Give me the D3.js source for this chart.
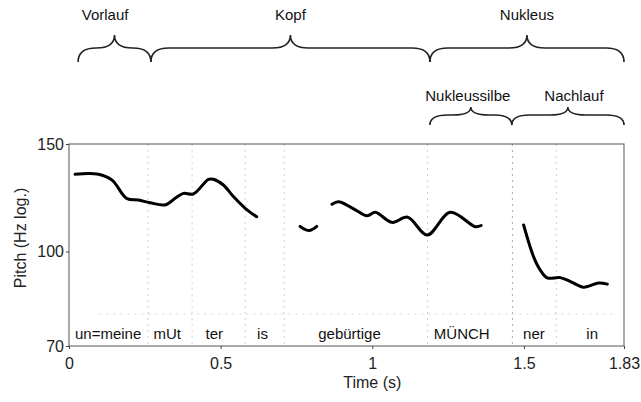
<!DOCTYPE html>
<html>
<head>
<meta charset="utf-8">
<script src="https://cdn.jsdelivr.net/npm/d3@7"></script>
<style>
  body { margin: 0; background: #fff; }
  svg { display: block; font-family: "Liberation Sans", Arial, sans-serif; }
  .axis text { font-size: 16px; fill: #222; }
  .axis path, .axis line { stroke: #444; }
</style>
</head>
<body>
<div id="chart"></div>
<script>
// pitch contour, [time s, Hz], one array per voiced stretch
const seg1 = [[0.020,133.8],[0.097,133.8],[0.142,130.9],[0.190,122.2],[0.229,121.4],[0.267,120.2],[0.317,119.2],
  [0.350,122.2],[0.377,124.5],[0.410,124.2],[0.460,131.3],[0.476,131.3],[0.509,128.5],[0.542,123.0],[0.581,117.7],[0.619,114.0]];
const seg2 = [[0.762,109.9],[0.792,108.2],[0.817,109.9]];
const seg3 = [[0.867,119.5],[0.889,120.6],[0.934,117.8],[0.983,114.4],[1.010,115.9],[1.065,111.6],[1.117,113.8],
  [1.181,106.4],[1.257,115.9],[1.340,109.8],[1.359,110.3]];
const seg4 = [[1.499,110.5],[1.532,98.0],[1.554,93.2],[1.577,90.5],[1.620,90.6],[1.657,89.1],[1.697,87.4],[1.747,88.8],[1.775,88.4]];
const segments = [seg1, seg2, seg3, seg4];

// syllable tier
const words = ["un=meine", "mUt", "ter", "is", "gebürtige", "MÜNCH", "ner", "in"];
const wordTimes = [0.129, 0.324, 0.479, 0.638, 0.925, 1.295, 1.533, 1.725];
const boundaries = [0.261, 0.406, 0.581, 0.710, 1.182, 1.462, 1.607];
const tierLineHz = 79;

// ticks
const xTicks = [0, 0.5, 1, 1.5, 1.83];
const yTicks = [70, 100, 150];

// bracket annotations: [start, end] in s
const topBraces = ["Vorlauf", "Kopf", "Nukleus"];
const topSpans = [[0.03, 0.27], [0.27, 1.19], [1.19, 1.83]];
const topLabelAt = [0.119, 0.73, 1.51];
const lowBraces = ["Nukleussilbe", "Nachlauf"];
const lowSpans = [[1.19, 1.46], [1.46, 1.83]];
const lowLabelAt = [1.315, 1.665];

const width = 641, height = 402;
const svg = d3.select("#chart").append("svg")
  .attr("width", width).attr("height", height);

const x = d3.scaleLinear().domain([0, 1.83]).range([69, 624]);
const y = d3.scaleLog().domain([70, 150]).range([346, 144]);

// segment boundaries
svg.append("g").selectAll("line")
  .data(boundaries)
  .enter().append("line")
  .attr("x1", d => x(d)).attr("x2", d => x(d))
  .attr("y1", y(150)).attr("y2", y(70))
  .attr("stroke", (d, i) => i === 5 ? "#aaa" : "#d4d4d4")
  .attr("stroke-dasharray", "2,4");

// tier divider
svg.append("line")
  .attr("x1", x(0.1)).attr("x2", x(1.8))
  .attr("y1", y(tierLineHz)).attr("y2", y(tierLineHz))
  .attr("stroke", "#d4d4d4")
  .attr("stroke-dasharray", "2,5");

// frame
svg.append("rect")
  .attr("x", x(0)).attr("y", y(150))
  .attr("width", x(1.83) - x(0)).attr("height", y(70) - y(150))
  .attr("fill", "none").attr("stroke", "#555").attr("stroke-width", 1);

// axes
svg.append("g").attr("class", "axis")
  .attr("transform", "translate(0," + y(70) + ")")
  .call(d3.axisBottom(x).tickValues(xTicks).tickSize(3).tickPadding(9)
    .tickFormat(d => d === 1.83 ? "1.83" : d3.format("")(d)))
  .call(g => g.select(".domain").remove());
svg.append("g").attr("class", "axis")
  .attr("transform", "translate(" + x(0) + ",0)")
  .call(d3.axisLeft(y).tickValues(yTicks).tickSize(3).tickPadding(2).tickFormat(d3.format("d")))
  .call(g => g.select(".domain").remove());

svg.append("text")
  .attr("x", x(1)).attr("y", 388)
  .attr("text-anchor", "middle")
  .attr("font-size", 16).attr("fill", "#222")
  .text("Time (s)");
svg.append("text")
  .attr("transform", "translate(26," + 238 + ") rotate(-90)")
  .attr("text-anchor", "middle")
  .attr("font-size", 16).attr("fill", "#222")
  .text("Pitch (Hz log.)");

// words
svg.append("g").selectAll("text")
  .data(words)
  .enter().append("text")
  .attr("x", (d, i) => x(wordTimes[i]))
  .attr("y", 339)
  .attr("text-anchor", "middle")
  .attr("font-size", 15).attr("fill", "#111")
  .text(d => d);

// pitch contour
const line = d3.line()
  .x(d => x(d[0])).y(d => y(d[1]))
  .curve(d3.curveCatmullRom.alpha(0.5));
svg.append("g").selectAll("path")
  .data(segments)
  .enter().append("path")
  .attr("d", line)
  .attr("fill", "none")
  .attr("stroke", "#000")
  .attr("stroke-width", 3)
  .attr("stroke-linecap", "round");

// curly braces
function brace(x0, x1, yEnd, yArm, yTip) {
  const xm = (x0 + x1) / 2, w = Math.min(18, (x1 - x0) / 4);
  return "M" + x0 + "," + yEnd +
    "Q" + x0 + "," + yArm + " " + (x0 + w) + "," + yArm +
    "L" + (xm - w) + "," + yArm +
    "Q" + xm + "," + yArm + " " + xm + "," + yTip +
    "Q" + xm + "," + yArm + " " + (xm + w) + "," + yArm +
    "L" + (x1 - w) + "," + yArm +
    "Q" + x1 + "," + yArm + " " + x1 + "," + yEnd;
}
function braceRow(names, spans, labelAt, ys, labelY) {
  const g = svg.append("g");
  g.selectAll("path")
    .data(spans)
    .enter().append("path")
    .attr("d", d => brace(x(d[0]), x(d[1]), ys[0], ys[1], ys[2]))
    .attr("fill", "none").attr("stroke", "#222").attr("stroke-width", 1.6);
  g.selectAll("text")
    .data(names)
    .enter().append("text")
    .attr("x", (d, i) => x(labelAt[i]))
    .attr("y", labelY)
    .attr("text-anchor", "middle")
    .attr("font-size", 15).attr("fill", "#111")
    .text(d => d);
}
braceRow(topBraces, topSpans, topLabelAt, [62, 48, 35], 20);
braceRow(lowBraces, lowSpans, lowLabelAt, [125, 115, 107], 101);
</script>
</body>
</html>
